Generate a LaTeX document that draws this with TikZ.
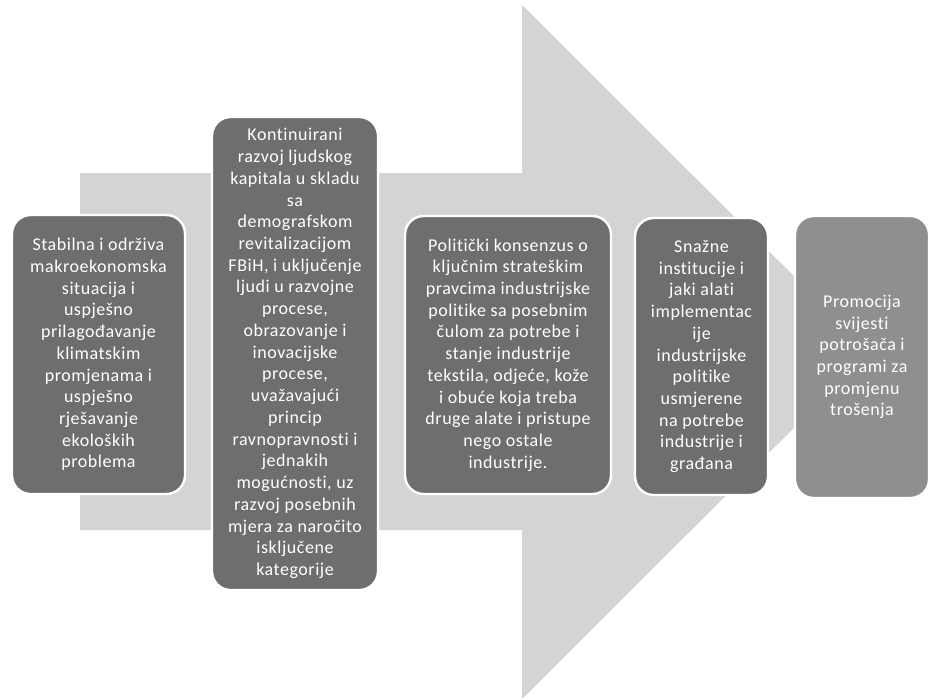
\documentclass[tikz,border=0pt]{standalone}
\usepackage{fontspec}
\setmainfont[LetterSpace=3,Ligatures=NoCommon]{Carlito}
\definecolor{arrowgray}{RGB}{212,212,212}
\definecolor{boxgray}{RGB}{110,110,110}
\definecolor{lastgray}{RGB}{143,143,143}

\begin{document}
\begin{tikzpicture}[x=0.75pt,y=-0.75pt,line join=round,
    stepbox/.style={rounded corners=14pt,fill=boxgray,draw=white,line width=1.8pt,
      text=white,align=center,inner sep=0pt,font=\fontsize{13.5}{16.3}\selectfont},
    lastbox/.style={stepbox,fill=lastgray}]
\useasboundingbox (0,0) rectangle (930,699);
% ================= big arrow in the back =================
  \fill[arrowgray] (80,173) -- (522,173) -- (522,5) -- (870,352)
      -- (522,699) -- (522,530) -- (80,530) -- cycle;
% ================= steps =================
  \node[stepbox,minimum width=129.75pt,minimum height=209.25pt] (stab) at (98.5,354.5)
      {Stabilna i održiva\\makroekonomska\\situacija i\\uspješno\\prilagođavanje\\klimatskim\\promjenama i\\uspješno\\rješavanje\\ekoloških\\problema};
  \node[stepbox,minimum width=124.5pt,minimum height=354.75pt] (kont) at (295,353.5)
      {Kontinuirani\\razvoj ljudskog\\kapitala u skladu\\sa\\demografskom\\revitalizacijom\\FBiH, i uključenje\\ljudi u razvojne\\procese,\\obrazovanje i\\inovacijske\\procese,\\uvažavajući\\princip\\ravnopravnosti i\\jednakih\\mogućnosti, uz\\razvoj posebnih\\mjera za naročito\\isključene\\kategorije};
  \node[stepbox,minimum width=154.5pt,minimum height=208.5pt] (poli) at (508,355)
      {Politički konsenzus o\\ključnim strateškim\\pravcima industrijske\\politike sa posebnim\\čulom za potrebe i\\stanje industrije\\tekstila, odjeće, kože\\i obuće koja treba\\druge alate i pristupe\\nego ostale\\industrije.};
  \node[stepbox,minimum width=99.75pt,minimum height=207.75pt] (inst) at (701.5,356.5)
      {Snažne\\institucije i\\jaki alati\\implementac\\ije\\industrijske\\politike\\usmjerene\\na potrebe\\industrije i\\građana};
  \node[lastbox,minimum width=100.5pt,minimum height=211.5pt] (prom) at (862,357)
      {Promocija\\svijesti\\potrošača i\\programi za\\promjenu\\trošenja};
\end{tikzpicture}
\end{document}
